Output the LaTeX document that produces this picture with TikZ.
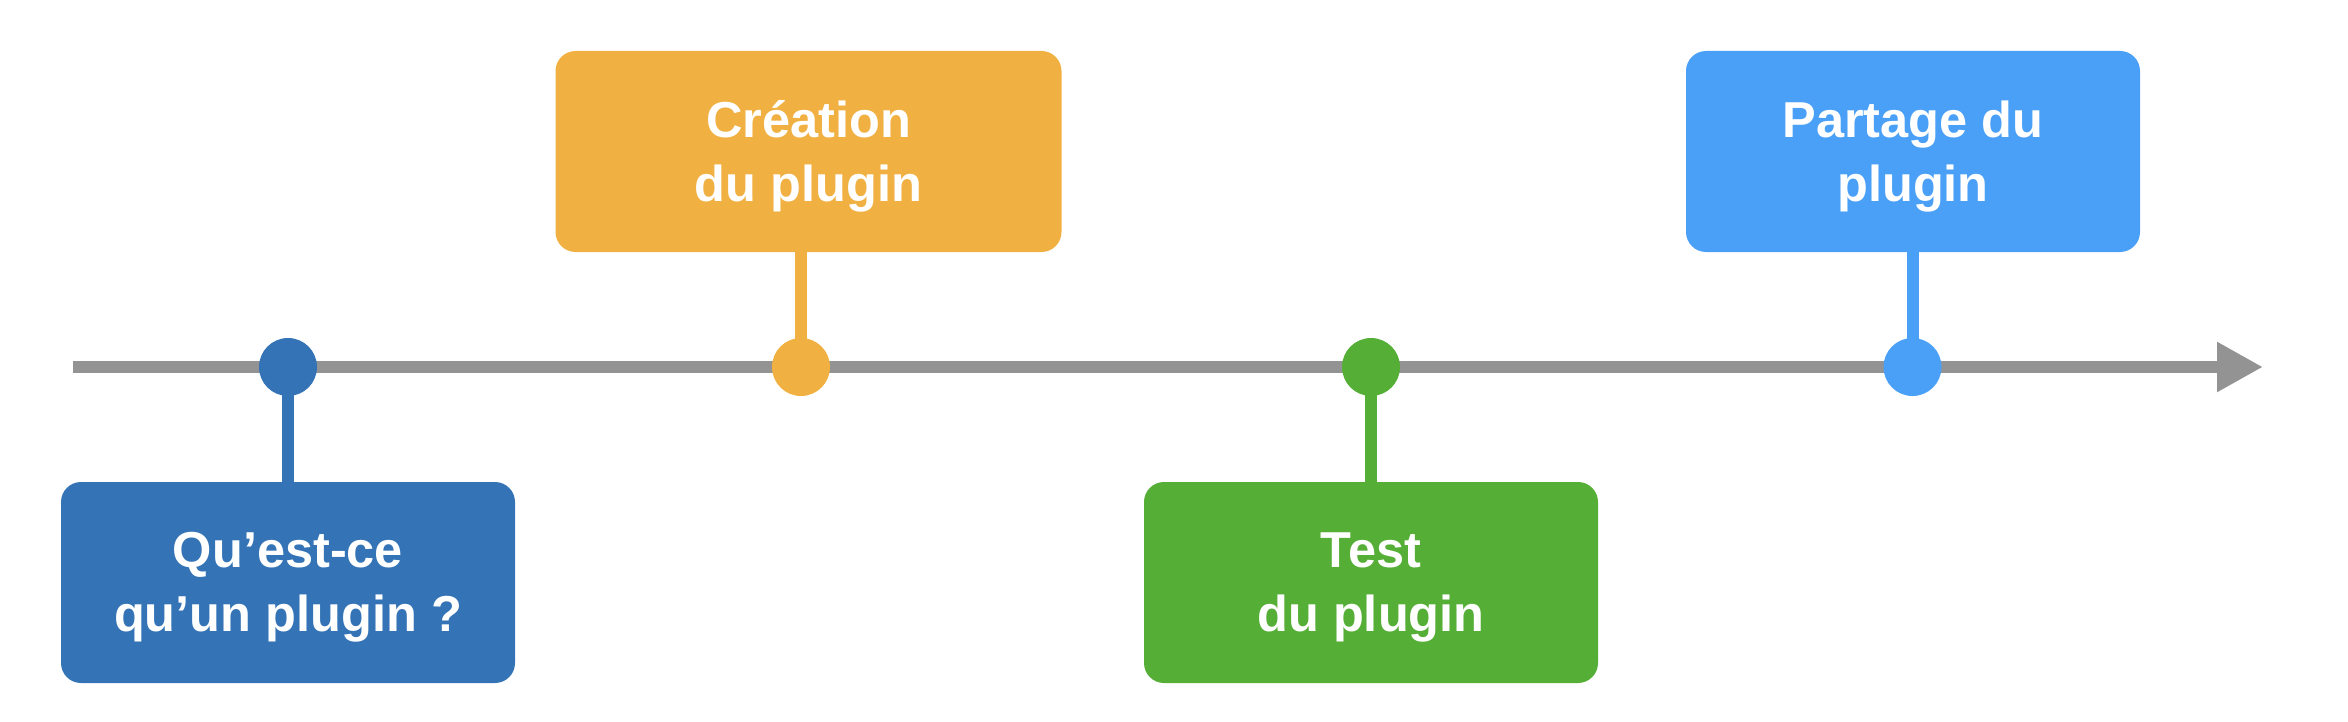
\documentclass[tikz,border=0pt]{standalone}
\usepackage{fontspec}
\setmainfont{Liberation Sans}
\usetikzlibrary{arrows.meta}
\definecolor{cdblue}{HTML}{3474B6}
\definecolor{corange}{HTML}{F1B142}
\definecolor{cgreen}{HTML}{55AE36}
\definecolor{clblue}{HTML}{4AA0F6}
\definecolor{caxis}{HTML}{939393}
\tikzset{
  card/.style={fill=#1, draw=none, rounded corners=20pt, minimum width=454pt, minimum height=201pt,
    inner sep=0pt},
  txt/.style={text=white, align=center, inner sep=0pt, font=\fontsize{50.5}{64}\selectfont\bfseries},
  dot/.style={circle, fill=#1, draw=none, minimum size=58pt, inner sep=0pt},
  stem/.style={draw=#1, line width=12pt},
  axis/.style={draw=caxis, line width=12pt, -{Triangle[length=46pt,width=47pt]}}
}
\begin{document}
\begin{tikzpicture}[x=1pt,y=-1pt]
\useasboundingbox (0,0) rectangle (2348,722);
\coordinate (s) at (73,367);
\coordinate (e) at (2263,367);
\draw[axis] (s) -- (e);
\node[card=cdblue] (b1) at (288,582.5) {};
\node[card=corange, minimum width=506pt] (b2) at (808.5,151.5) {};
\node[card=cgreen] (b3) at (1371,582.5) {};
\node[card=clblue] (b4) at (1913,151.5) {};
\node[txt] (t1) at ([yshift=-5pt]b1.center) {Qu’est-ce\\qu’un plugin ?};
\node[txt] (t2) at ([yshift=-5pt]b2.center) {Création\\du plugin};
\node[txt] (t3) at ([yshift=-5pt]b3.center) {Test\\du plugin};
\node[txt] (t4) at ([yshift=-5pt]b4.center) {Partage du\\plugin};
\coordinate (d1) at (288,367);
\coordinate (d2) at (801,367);
\coordinate (d3) at (1371,367);
\coordinate (d4) at (1912.5,367);
\draw[stem=cdblue] (d1) -- (d1 |- b1.north);
\draw[stem=corange] (d2) -- (d2 |- b2.south);
\draw[stem=cgreen] (d3) -- (d3 |- b3.north);
\draw[stem=clblue] (d4) -- (d4 |- b4.south);
\node[dot=cdblue] (p1) at (d1) {};
\node[dot=corange] (p2) at (d2) {};
\node[dot=cgreen] (p3) at (d3) {};
\node[dot=clblue] (p4) at (d4) {};
\end{tikzpicture}
\end{document}
